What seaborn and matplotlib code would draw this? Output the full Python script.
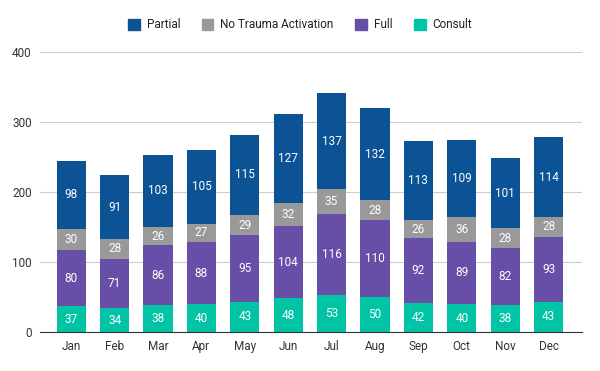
import seaborn as sns
import matplotlib.pyplot as plt
import numpy as np
from matplotlib.patches import Patch

months = ["Jan", "Feb", "Mar", "Apr", "May", "Jun", "Jul", "Aug", "Sep", "Oct", "Nov", "Dec"]
consult = [37, 34, 38, 40, 43, 48, 53, 50, 42, 40, 38, 43]
full = [80, 71, 86, 88, 95, 104, 116, 110, 92, 89, 82, 93]
no_trauma = [30, 28, 26, 27, 29, 32, 35, 28, 26, 36, 28, 28]
partial = [98, 91, 103, 105, 115, 127, 137, 132, 113, 109, 101, 114]

sns.set_style("white")
plt.rcParams['font.family'] = ['Roboto', 'DejaVu Sans']

layers = [
    ("Consult", consult, "#00C4A4"),
    ("Full", full, "#674EA7"),
    ("No Trauma Activation", no_trauma, "#999999"),
    ("Partial", partial, "#0B5394"),
]

fig = plt.figure(figsize=(6, 3.71), dpi=100)
ax = fig.add_axes([40 / 600, 1 - 332 / 371, 542 / 600, 280 / 371])

bottom = np.zeros(len(months))
for name, vals, col in layers:
    sns.barplot(x=months, y=vals, bottom=bottom, color=col, width=0.67,
                saturation=1, ax=ax, linewidth=0, zorder=3)
    bottom = bottom + np.array(vals)

for cont in ax.containers:
    ax.bar_label(cont, label_type="center", color="white", fontsize=8.5)

ax.set_ylim(0, 400)
ax.set_xlim(-0.72, 11.77)
ax.set_yticks([0, 100, 200, 300, 400])
ax.yaxis.grid(True, color="#cccccc", linewidth=0.8, zorder=0)
ax.set_axisbelow(True)
for s in ["top", "right", "left"]:
    ax.spines[s].set_visible(False)
ax.spines["bottom"].set_color("#333333")
ax.spines["bottom"].set_zorder(4)
ax.tick_params(axis="both", length=0, labelsize=8.5, labelcolor="#333333", pad=6)
ax.set_xlabel("")
ax.set_ylabel("")

handles = [Patch(color=c, label=n) for n, _, c in layers[::-1]]
fig.legend(handles=handles, loc="center", bbox_to_anchor=(0.5, 1 - 25 / 371), ncol=4,
           frameon=False, fontsize=8.5, handlelength=1.0, handleheight=1.0,
           columnspacing=1.8, handletextpad=0.6, labelcolor="#222222")

fig.savefig("out.png", dpi=100)
